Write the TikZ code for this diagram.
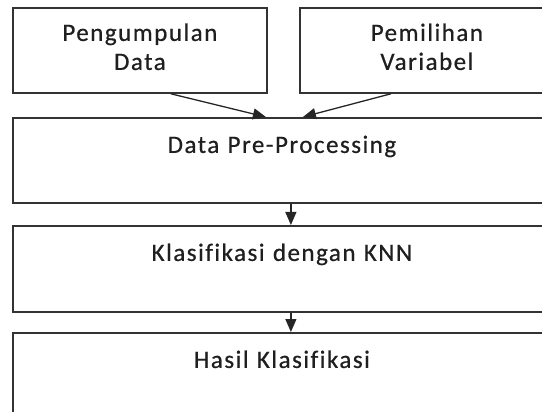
\documentclass[tikz,border=0pt]{standalone}
\usepackage{fontspec}
\setmainfont{Carlito}[LetterSpace=6,FakeBold=0.6,Ligatures=NoCommon]
\usetikzlibrary{arrows.meta}
\begin{document}
\begin{tikzpicture}[x=1pt,y=-1pt,
  box/.style={draw=black!80,line width=1.8pt,rectangle,inner sep=0pt,anchor=north west,
    font=\fontsize{25}{29}\selectfont,text=black!88,align=center},
  conn/.style={draw=black!85,line width=1.3pt,-{Triangle[length=13pt,width=11pt]}}]
\useasboundingbox (0,0) rectangle (542,412);
\begin{scope}
\clip (0,0) rectangle (542,412);
\node[box,text width=254pt,text height=33pt,text depth=52pt] (b1) at (12,7) {Pengumpulan\\Data};
\node[box,text width=254pt,text height=33pt,text depth=52pt] (b2) at (299,7) {Pemilihan\\Variabel};
\node[box,text width=538pt,text height=35pt,text depth=50pt] (b3) at (12,117) {Data Pre-Processing};
\node[box,text width=538pt,text height=35pt,text depth=51pt] (b4) at (12,225) {Klasifikasi dengan KNN};
\node[box,text width=538pt,text height=35pt,text depth=60pt] (b5) at (12,332) {Hasil Klasifikasi};
\draw[conn] ([xshift=31pt]b1.south) -- ([xshift=-16pt]b3.north);
\draw[conn] ([xshift=-36pt]b2.south) -- ([xshift=21pt]b3.north);
\draw[conn] ([xshift=9pt]b3.south) -- ([xshift=9pt]b4.north);
\draw[conn] ([xshift=9pt]b4.south) -- ([xshift=9pt]b5.north);
\end{scope}
\end{tikzpicture}
\end{document}
